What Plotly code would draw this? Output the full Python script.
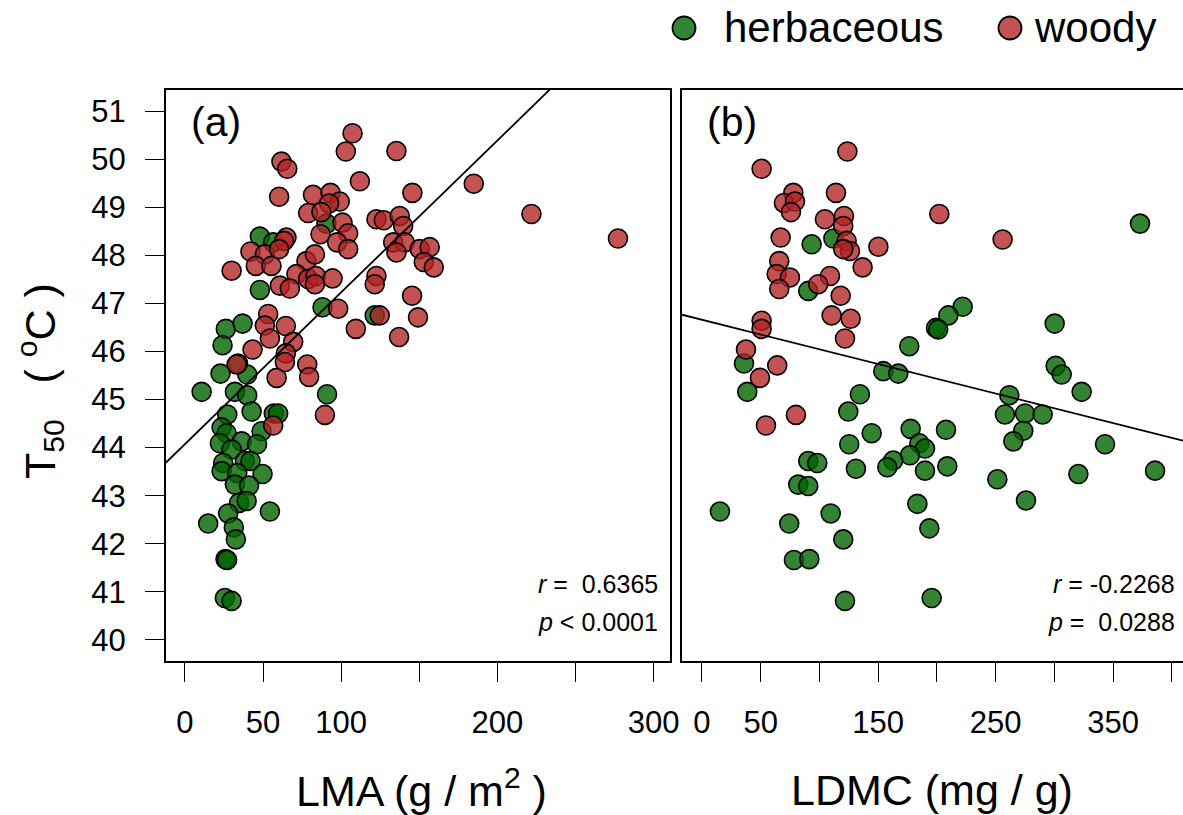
import plotly.graph_objects as go

# ---------------- data ----------------
lma_herb_x = [90.6, 48, 56.5, 48, 88.1, 121.5, 26.2, 36.9, 24.1, 22.8, 39.9, 10.7, 32, 39.9, 91,
              27.1, 42.7, 56.9, 59.7, 23.5, 26.7, 49.1, 22.4, 36.3, 46.2, 29.9, 24.5, 38.4, 42,
              23.5, 33.5, 49.7, 32, 41.1, 34.7, 39.5, 27.7, 54.4, 14.9, 31.3, 32.6, 26, 27,
              25.6, 29.9, 34]
lma_herb_y = [48.66, 48.39, 48.27, 47.28, 46.92, 46.75, 46.47, 46.58, 46.13, 45.54, 45.52, 45.16, 45.16, 45.09, 45.11,
              44.69, 44.75, 44.71, 44.71, 44.42, 44.3, 44.34, 44.09, 44.13, 44.07, 43.96, 43.68, 43.72, 43.72,
              43.51, 43.47, 43.45, 43.23, 43.21, 42.85, 42.89, 42.63, 42.67, 42.42, 42.34, 42.09, 41.68, 41.66,
              40.87, 40.81, 45.75]

lma_woody_x = [107.3, 103, 135.4, 61.8, 65.5, 112, 60.3, 82, 93.2, 99.1, 92.3, 78.9, 87.4, 145.6,
               122.6, 127.3, 137.5, 139.7, 100.9, 104.5, 86.8, 97.4, 104.5, 133.3, 140.7, 135.4,
               65, 63.5, 42, 51.2, 45.4, 55.4, 29.9, 60.3, 77.8, 83.2, 71.4, 78.9, 83.8, 94.5,
               83.2, 60.8, 67.2, 122.6, 121.5, 145.4, 98.1, 124.7, 149.2, 109.4, 137.1, 53.3,
               51.2, 64.6, 54.4, 43.3, 69.3, 64.6, 33.1, 78.3, 79.5, 58.7, 64, 89.6, 56.5,
               184.9, 221.8, 277.2, 150.3, 156.7, 152.9, 159.3]
lma_woody_y = [50.54, 50.16, 50.17, 49.95, 49.8, 49.54, 49.22, 49.26, 49.3, 49.12, 49.08, 48.88, 48.9, 49.3,
               48.75, 48.73, 48.82, 48.61, 48.68, 48.46, 48.44, 48.27, 48.13, 48.27, 48.27, 48.06,
               48.37, 48.3, 48.08, 48.02, 47.78, 47.78, 47.68, 48.13, 47.88, 48.02, 47.61, 47.51, 47.57, 47.52,
               47.4, 47.37, 47.31, 47.57, 47.4, 47.16, 46.89, 46.75, 46.71, 46.47, 46.3, 46.78,
               46.54, 46.53, 46.27, 46.04, 46.2, 45.96, 45.73, 45.73, 45.47, 45.45, 45.78, 44.68, 44.46,
               49.49, 48.86, 48.35, 48.13, 48.17, 47.86, 47.75]

ldmc_herb_x = [111.9, 93.4, 90.5, 35.8, 176.5, 154.4, 167.2, 199.3, 38.6, 134.5, 124.6, 144.5, 177.7,
               185.1, 189.9, 177.1, 162.9, 157.8, 189.9, 125.4, 131.1, 90.5, 98.2, 82, 90.5, 15.3,
               74.3, 109.6, 120.3, 183.4, 193.6, 78.3, 91.4, 121.8, 195.6, 373, 222, 209.8, 201.2,
               300.3, 301.2, 306.3, 323.3, 261.7, 258, 275.1, 290.1, 273.6, 265.1, 207.8, 208.9,
               251.5, 320.5, 343.2, 385.8, 275.9]
ldmc_herb_y = [48.35, 48.23, 47.26, 45.75, 46.11, 45.59, 45.54, 46.49, 45.16, 45.11, 44.75, 44.3, 44.39,
               44.09, 43.98, 43.84, 43.73, 43.59, 43.52, 44.07, 43.56, 43.72, 43.68, 43.23, 43.2, 42.67,
               42.42, 42.63, 42.09, 42.83, 42.32, 41.66, 41.68, 40.81, 40.87, 48.66, 46.93, 46.75, 46.46,
               46.58, 45.7, 45.52, 45.16, 45.09, 44.69, 44.71, 44.69, 44.35, 44.13, 44.37, 43.61,
               43.34, 43.45, 44.07, 43.52, 42.9]

ldmc_woody_x = [123.8, 50.8, 77.8, 69.8, 79.2, 75.8, 114.1, 104.7, 120.9, 120.3, 123.2, 126, 120.3,
                150.2, 136.8, 67, 65.8, 63.6, 74.9, 65.8, 109, 99, 118.1, 110.4, 126.6, 121.8,
                50.8, 50.8, 37.5, 64.1, 49.4, 80, 54.5, 202.1, 256]
ldmc_woody_y = [50.16, 49.8, 49.3, 49.09, 49.12, 48.9, 49.3, 48.75, 48.82, 48.61, 48.3, 48.09, 48.13,
                48.18, 47.75, 48.37, 47.88, 47.61, 47.54, 47.3, 47.57, 47.4, 47.16, 46.75, 46.68, 46.27,
                46.64, 46.47, 46.04, 45.71, 45.45, 44.68, 44.46, 48.86, 48.33]

# fitted regression lines (intercept, slope) and stats
fit_intercepts = [44.07, 46.66]
fit_slopes = [0.0316, -0.00614]
r_labels = ["0.6365", "-0.2268"]
p_labels = ["< 0.0001", "=  0.0288"]

group_names = ["herbaceous", "woody"]

lma_ticks = [0, 50, 100, 200, 300]
lma_minor_ticks = [150, 250]
ldmc_ticks = [0, 50, 150, 250, 350]
ldmc_minor_ticks = [100, 200, 300, 400]
y_ticks = list(range(40, 52))

x_ranges = [[-12.1, 310.5], [-17.0, 409.6]]
y_range = [39.56, 51.44]

GREEN = "rgba(0,100,0,0.8)"
RED = "rgba(178,34,34,0.78)"
FONT = "Liberation Sans, Arial, sans-serif"

fig = go.Figure()

mk = dict(size=19, line=dict(color="black", width=1.6))

fig.add_trace(go.Scatter(x=lma_herb_x, y=lma_herb_y, mode="markers", name=group_names[0],
                         marker=dict(color=GREEN, **mk), xaxis="x", yaxis="y"))
fig.add_trace(go.Scatter(x=lma_woody_x, y=lma_woody_y, mode="markers", name=group_names[1],
                         marker=dict(color=RED, **mk), xaxis="x", yaxis="y"))
fig.add_trace(go.Scatter(x=ldmc_herb_x, y=ldmc_herb_y, mode="markers", name=group_names[0],
                         marker=dict(color=GREEN, **mk), xaxis="x2", yaxis="y2"))
fig.add_trace(go.Scatter(x=ldmc_woody_x, y=ldmc_woody_y, mode="markers", name=group_names[1],
                         marker=dict(color=RED, **mk), xaxis="x2", yaxis="y2"))

for i, (xa, ya) in enumerate([("x", "y"), ("x2", "y2")]):
    xs = x_ranges[i]
    ys = [fit_intercepts[i] + fit_slopes[i] * v for v in xs]
    fig.add_trace(go.Scatter(x=xs, y=ys, mode="lines", line=dict(color="black", width=1.8),
                             xaxis=xa, yaxis=ya, hoverinfo="skip"))

W, H = 1183, 815
L, R, T, B = 166, 0, 90, 154
pw = W - L - R
ph = H - T - B

def px2x(px):
    return (px - L) / pw

def py2y(py):
    return (H - B - py) / ph

dom_a = [0, px2x(670)]
dom_b = [px2x(682), 1]

TICKFONT = dict(family=FONT, size=31, color="black")
axis_common = dict(showline=True, linecolor="black", linewidth=2, showgrid=False, zeroline=False,
                   ticks="outside", tickcolor="black", tickwidth=1, tickfont=TICKFONT)

fig.update_layout(
    width=W, height=H,
    margin=dict(l=L, r=R, t=T, b=B, pad=0, autoexpand=False),
    plot_bgcolor="white", paper_bgcolor="white",
    font=dict(family=FONT, color="black"),
    showlegend=False,
    xaxis=dict(domain=dom_a, range=x_ranges[0], tickmode="array", tickvals=lma_ticks,
               mirror=True, ticklen=19, ticklabelstandoff=14, anchor="y",
               minor=dict(tickmode="array", tickvals=lma_minor_ticks, ticks="outside", ticklen=19,
                          tickcolor="black", tickwidth=1, showgrid=False),
               **axis_common),
    yaxis=dict(domain=[0, 1], range=y_range, tickmode="array", tickvals=y_ticks,
               mirror=True, ticklen=19, ticklabelstandoff=13, anchor="x", **axis_common),
    xaxis2=dict(domain=dom_b, range=x_ranges[1], tickmode="array", tickvals=ldmc_ticks,
                mirror=True, ticklen=19, ticklabelstandoff=14, anchor="y2",
                minor=dict(tickmode="array", tickvals=ldmc_minor_ticks, ticks="outside", ticklen=19,
                           tickcolor="black", tickwidth=1, showgrid=False),
                **axis_common),
    yaxis2=dict(domain=[0, 1], range=y_range, showline=True, linecolor="black", linewidth=2,
                mirror=False, showticklabels=False, ticks="", showgrid=False, zeroline=False,
                anchor="x2"),
)

# legend drawn as symbols + labels above the panels
shapes = []
ann = []
for name, col, cx, tx in [(group_names[0], GREEN, 684, 722), (group_names[1], RED, 1010, 1032)]:
    shapes.append(dict(type="circle", xref="paper", yref="paper", xsizemode="pixel", ysizemode="pixel",
                       xanchor=px2x(cx), yanchor=py2y(28), x0=-11.5, x1=11.5, y0=-11.5, y1=11.5,
                       fillcolor=col, line=dict(color="black", width=1.8)))
    ann.append(dict(text=name, x=px2x(tx), y=py2y(28), xref="paper", yref="paper",
                    xanchor="left", yanchor="middle", showarrow=False,
                    font=dict(family=FONT, size=42, color="black")))

ann.append(dict(text="(a)", x=px2x(189), y=py2y(122), xref="paper", yref="paper",
                xanchor="left", yanchor="middle", showarrow=False,
                font=dict(family=FONT, size=41, color="black")))
ann.append(dict(text="(b)", x=px2x(705), y=py2y(122), xref="paper", yref="paper",
                xanchor="left", yanchor="middle", showarrow=False,
                font=dict(family=FONT, size=41, color="black")))
for i, xr in enumerate([660, 1177]):
    ann.append(dict(text="<i>r</i> = " + (" " if not r_labels[i].startswith("-") else "") + r_labels[i],
                    x=px2x(xr), y=py2y(584), xref="paper", yref="paper",
                    xanchor="right", yanchor="middle", showarrow=False,
                    font=dict(family=FONT, size=25, color="black")))
    ann.append(dict(text="<i>p</i> " + p_labels[i],
                    x=px2x(xr), y=py2y(622), xref="paper", yref="paper",
                    xanchor="right", yanchor="middle", showarrow=False,
                    font=dict(family=FONT, size=25, color="black")))
ann.append(dict(text="LMA (g / m<sup>2</sup> )", x=px2x(421), y=py2y(788), xref="paper", yref="paper",
                xanchor="center", yanchor="middle", showarrow=False,
                font=dict(family=FONT, size=43, color="black")))
ann.append(dict(text="LDMC (mg / g)", x=px2x(932), y=py2y(790), xref="paper", yref="paper",
                xanchor="center", yanchor="middle", showarrow=False,
                font=dict(family=FONT, size=43, color="black")))
ann.append(dict(text="T<sub>50</sub>   ( <sup>o</sup>C )", x=px2x(40), y=py2y(381), xref="paper", yref="paper",
                xanchor="center", yanchor="middle", showarrow=False, textangle=-90,
                font=dict(family=FONT, size=43, color="black")))
fig.update_layout(annotations=ann, shapes=shapes)

fig.write_html("out.html", config={"displayModeBar": False},
               post_script="document.body.style.margin='0';document.body.style.padding='0';")
